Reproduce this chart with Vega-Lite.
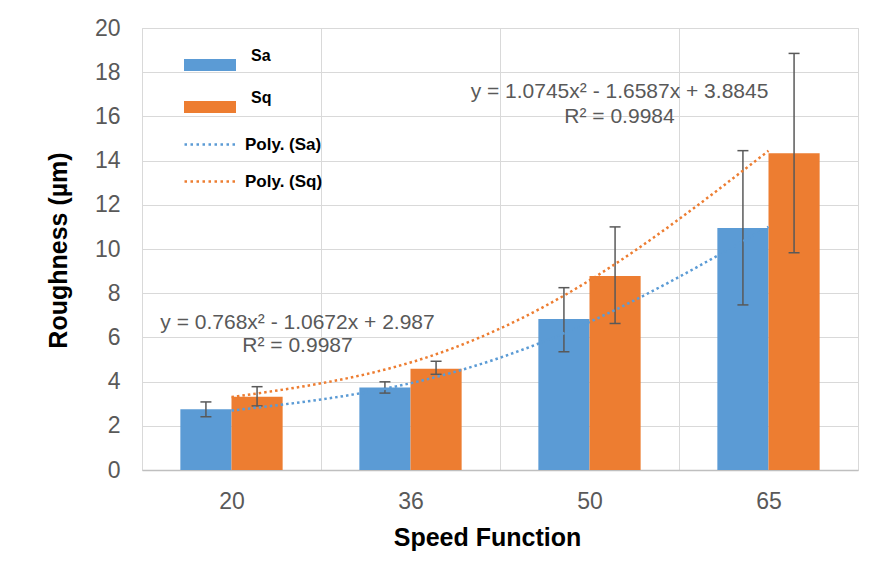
{
  "$schema": "https://vega.github.io/schema/vega-lite/v6.json",
  "autosize": {"type": "none"},
  "width": 716,
  "height": 442,
  "padding": {"left": 142, "top": 28, "right": 12, "bottom": 91},
  "background": "white",
  "config": {
    "view": {"stroke": "#d9d9d9", "strokeWidth": 1},
    "font": "Liberation Sans"
  },
  "datasets": {
    "bars": [
      {"speed": "20", "series": "Sa", "value": 2.75, "lo": 2.41, "hi": 3.08},
      {"speed": "20", "series": "Sq", "value": 3.32, "lo": 2.9, "hi": 3.77},
      {"speed": "36", "series": "Sa", "value": 3.73, "lo": 3.48, "hi": 3.99},
      {"speed": "36", "series": "Sq", "value": 4.58, "lo": 4.33, "hi": 4.92},
      {"speed": "50", "series": "Sa", "value": 6.83, "lo": 5.35, "hi": 8.25},
      {"speed": "50", "series": "Sq", "value": 8.78, "lo": 6.63, "hi": 11.0},
      {"speed": "65", "series": "Sa", "value": 10.95, "lo": 7.47, "hi": 14.45},
      {"speed": "65", "series": "Sq", "value": 14.33, "lo": 9.83, "hi": 18.85}
    ],
    "trend": [
      {"speed": "20", "trend": "Poly. (Sa)", "value": 2.688},
      {"speed": "36", "trend": "Poly. (Sa)", "value": 3.925},
      {"speed": "50", "trend": "Poly. (Sa)", "value": 6.697},
      {"speed": "65", "trend": "Poly. (Sa)", "value": 11.006},
      {"speed": "20", "trend": "Poly. (Sq)", "value": 3.300},
      {"speed": "36", "trend": "Poly. (Sq)", "value": 4.865},
      {"speed": "50", "trend": "Poly. (Sq)", "value": 8.579},
      {"speed": "65", "trend": "Poly. (Sq)", "value": 14.442}
    ],
    "eq1": [{"label": ["y = 0.768x² - 1.0672x + 2.987", "R² = 0.9987"]}],
    "eq2": [{"label": ["y = 1.0745x² - 1.6587x + 3.8845", "R² = 0.9984"]}]
  },
  "encoding": {
    "x": {
      "field": "speed",
      "type": "nominal",
      "scale": {"domain": ["20", "36", "50", "65"], "paddingInner": 0, "paddingOuter": 0},
      "axis": {
        "title": "Speed Function",
        "titleFont": "Liberation Sans",
        "titleFontSize": 25,
        "titleFontWeight": "bold",
        "titleColor": "black",
        "titleX": 345,
        "titleY": 67,
        "titleBaseline": "middle",
        "labelAngle": 0,
        "labelFontSize": 23,
        "labelColor": "#595959",
        "labelPadding": 20,
        "labelBaseline": "top",
        "ticks": false,
        "tickBand": "extent",
        "grid": true,
        "gridColor": "#d9d9d9",
        "domainColor": "#bfbfbf",
        "domainWidth": 1.5
      }
    }
  },
  "layer": [
    {
      "data": {"name": "bars"},
      "mark": {"type": "bar"},
      "encoding": {
        "xOffset": {"field": "series", "type": "nominal", "scale": {"paddingInner": 0, "paddingOuter": 0.75}},
        "y": {
          "field": "value",
          "type": "quantitative",
          "scale": {"domain": [0, 20]},
          "axis": {
            "title": "Roughness (µm)",
            "titleFont": "Liberation Sans",
            "titleFontSize": 25,
            "titleFontWeight": "bold",
            "titleColor": "black",
            "titleX": -84,
            "titleY": 222,
            "titleAngle": -90,
            "titleBaseline": "middle",
            "titleAlign": "center",
            "values": [0, 2, 4, 6, 8, 10, 12, 14, 16, 18, 20],
            "labelFontSize": 23,
            "labelColor": "#595959",
            "labelPadding": 22,
            "ticks": false,
            "domain": false,
            "grid": true,
            "gridColor": "#d9d9d9"
          }
        },
        "color": {
          "field": "series",
          "type": "nominal",
          "scale": {"domain": ["Sa", "Sq"], "range": ["#5B9BD5", "#ED7D31"]},
          "legend": {
            "orient": "none",
            "legendX": 42,
            "legendY": 11,
            "title": null,
            "symbolType": "M-1,-0.23H1V0.23H-1Z",
            "symbolSize": 2704,
            "symbolStrokeWidth": 0,
            "symbolOpacity": 1,
            "labelFont": "Liberation Sans",
            "labelFontWeight": "bold",
            "labelFontSize": 16,
            "labelColor": "black",
            "labelOffset": 15,
            "labelBaseline": "line-bottom",
            "rowPadding": 10
          }
        }
      }
    },
    {
      "data": {"name": "bars"},
      "mark": {"type": "rule", "color": "#595959", "strokeWidth": 1.5},
      "encoding": {
        "xOffset": {"field": "series", "type": "nominal"},
        "y": {"field": "lo", "type": "quantitative"},
        "y2": {"field": "hi"}
      }
    },
    {
      "data": {"name": "bars"},
      "mark": {"type": "tick", "color": "#595959", "size": 11, "thickness": 1.5, "opacity": 1},
      "encoding": {
        "xOffset": {"field": "series", "type": "nominal"},
        "y": {"field": "lo", "type": "quantitative"}
      }
    },
    {
      "data": {"name": "bars"},
      "mark": {"type": "tick", "color": "#595959", "size": 11, "thickness": 1.5, "opacity": 1},
      "encoding": {
        "xOffset": {"field": "series", "type": "nominal"},
        "y": {"field": "hi", "type": "quantitative"}
      }
    },
    {
      "data": {"name": "trend"},
      "mark": {"type": "line", "interpolate": "natural", "strokeWidth": 2.5, "strokeDash": [2.5, 3]},
      "encoding": {
        "y": {"field": "value", "type": "quantitative"},
        "stroke": {
          "field": "trend",
          "type": "nominal",
          "scale": {"domain": ["Poly. (Sa)", "Poly. (Sq)"], "range": ["#5B9BD5", "#ED7D31"]},
          "legend": {
            "orient": "none",
            "legendX": 41,
            "legendY": 88,
            "title": null,
            "symbolType": "stroke",
            "symbolSize": 2916,
            "symbolStrokeWidth": 2.5,
            "symbolDash": [2.5, 3.5],
            "labelFont": "Liberation Sans",
            "labelFontWeight": "bold",
            "labelFontSize": 17,
            "labelColor": "black",
            "labelOffset": 5,
            "rowPadding": -15
          }
        }
      }
    },
    {
      "data": {"name": "eq1"},
      "mark": {"type": "text", "fontSize": 21, "color": "#595959", "align": "center", "baseline": "middle", "lineHeight": 23, "dx": 66},
      "encoding": {
        "x": {"datum": "20"},
        "y": {"datum": 6.63},
        "text": {"field": "label"}
      }
    },
    {
      "data": {"name": "eq2"},
      "mark": {"type": "text", "fontSize": 21, "color": "#595959", "align": "center", "baseline": "middle", "lineHeight": 25, "dx": 30},
      "encoding": {
        "x": {"datum": "50"},
        "y": {"datum": 17.12},
        "text": {"field": "label"}
      }
    }
  ]
}
